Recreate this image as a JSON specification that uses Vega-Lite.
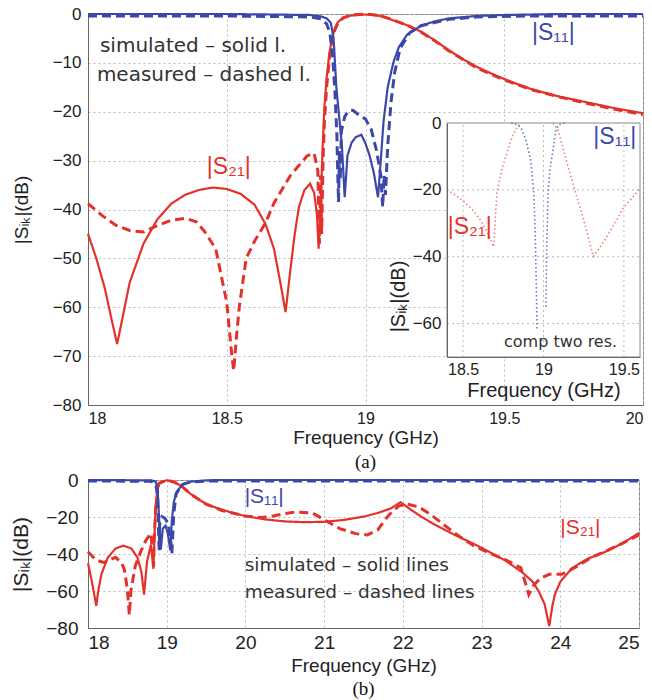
{
 "$schema": "https://vega.github.io/schema/vega-lite/v6.json",
 "padding": {"left": 10, "top": 4, "right": 5, "bottom": 5},
 "spacing": -3,
 "background": "white",
 "config": {
  "font": "Liberation Sans",
  "view": {"stroke": "#888", "strokeWidth": 1},
  "axis": {"grid": true, "gridColor": "#bbb", "gridDash": [2, 3], "ticks": false, "domainColor": "#666", "labelColor": "#222", "titleColor": "#222", "labelFont": "Liberation Sans", "titleFont": "Liberation Sans", "titleFontWeight": "normal", "labelFontSize": 16, "titleFontSize": 18},
  "title": {"font": "Liberation Serif", "fontWeight": "normal", "color": "#111", "fontSize": 19}
 },
 "datasets": {
  "a_lines": [
   {"f":18.0,"db":-45,"s":"S21","m":"sim"},{"f":18.03,"db":-50,"s":"S21","m":"sim"},{"f":18.06,"db":-56,"s":"S21","m":"sim"},{"f":18.085,"db":-62.5,"s":"S21","m":"sim"},{"f":18.105,"db":-67.5,"s":"S21","m":"sim"},{"f":18.125,"db":-62,"s":"S21","m":"sim"},{"f":18.15,"db":-55,"s":"S21","m":"sim"},{"f":18.2,"db":-47,"s":"S21","m":"sim"},{"f":18.25,"db":-42,"s":"S21","m":"sim"},{"f":18.3,"db":-38.8,"s":"S21","m":"sim"},{"f":18.35,"db":-37,"s":"S21","m":"sim"},{"f":18.4,"db":-36,"s":"S21","m":"sim"},{"f":18.45,"db":-35.5,"s":"S21","m":"sim"},{"f":18.5,"db":-35.8,"s":"S21","m":"sim"},{"f":18.55,"db":-36.8,"s":"S21","m":"sim"},{"f":18.6,"db":-39,"s":"S21","m":"sim"},{"f":18.64,"db":-43,"s":"S21","m":"sim"},{"f":18.67,"db":-48,"s":"S21","m":"sim"},{"f":18.69,"db":-54,"s":"S21","m":"sim"},{"f":18.712,"db":-61,"s":"S21","m":"sim"},{"f":18.73,"db":-52,"s":"S21","m":"sim"},{"f":18.745,"db":-45,"s":"S21","m":"sim"},{"f":18.76,"db":-39.5,"s":"S21","m":"sim"},{"f":18.78,"db":-36,"s":"S21","m":"sim"},{"f":18.8,"db":-34.7,"s":"S21","m":"sim"},{"f":18.815,"db":-36.6,"s":"S21","m":"sim"},{"f":18.825,"db":-41,"s":"S21","m":"sim"},{"f":18.831,"db":-48,"s":"S21","m":"sim"},{"f":18.838,"db":-40,"s":"S21","m":"sim"},{"f":18.845,"db":-28,"s":"S21","m":"sim"},{"f":18.852,"db":-19,"s":"S21","m":"sim"},{"f":18.86,"db":-13,"s":"S21","m":"sim"},{"f":18.87,"db":-8,"s":"S21","m":"sim"},{"f":18.88,"db":-4.8,"s":"S21","m":"sim"},{"f":18.89,"db":-2.9,"s":"S21","m":"sim"},{"f":18.9,"db":-1.7,"s":"S21","m":"sim"},{"f":18.92,"db":-0.7,"s":"S21","m":"sim"},{"f":18.95,"db":-0.3,"s":"S21","m":"sim"},{"f":19.0,"db":-0.1,"s":"S21","m":"sim"},{"f":19.03,"db":-0.2,"s":"S21","m":"sim"},{"f":19.06,"db":-0.5,"s":"S21","m":"sim"},{"f":19.1,"db":-1.3,"s":"S21","m":"sim"},{"f":19.15,"db":-2.3,"s":"S21","m":"sim"},{"f":19.2,"db":-3.6,"s":"S21","m":"sim"},{"f":19.25,"db":-5.4,"s":"S21","m":"sim"},{"f":19.3,"db":-7.4,"s":"S21","m":"sim"},{"f":19.35,"db":-9.2,"s":"S21","m":"sim"},{"f":19.4,"db":-10.8,"s":"S21","m":"sim"},{"f":19.45,"db":-12.1,"s":"S21","m":"sim"},{"f":19.5,"db":-13.3,"s":"S21","m":"sim"},{"f":19.55,"db":-14.4,"s":"S21","m":"sim"},{"f":19.6,"db":-15.4,"s":"S21","m":"sim"},{"f":19.65,"db":-16.2,"s":"S21","m":"sim"},{"f":19.7,"db":-16.9,"s":"S21","m":"sim"},{"f":19.75,"db":-17.5,"s":"S21","m":"sim"},{"f":19.8,"db":-18.1,"s":"S21","m":"sim"},{"f":19.85,"db":-18.7,"s":"S21","m":"sim"},{"f":19.9,"db":-19.3,"s":"S21","m":"sim"},{"f":19.95,"db":-19.8,"s":"S21","m":"sim"},{"f":20.0,"db":-20.3,"s":"S21","m":"sim"},
   {"f":18.0,"db":-38.8,"s":"S21","m":"meas"},{"f":18.05,"db":-41.2,"s":"S21","m":"meas"},{"f":18.1,"db":-43.2,"s":"S21","m":"meas"},{"f":18.15,"db":-44.3,"s":"S21","m":"meas"},{"f":18.2,"db":-44.6,"s":"S21","m":"meas"},{"f":18.25,"db":-43.3,"s":"S21","m":"meas"},{"f":18.3,"db":-42.2,"s":"S21","m":"meas"},{"f":18.35,"db":-41.8,"s":"S21","m":"meas"},{"f":18.39,"db":-42.5,"s":"S21","m":"meas"},{"f":18.42,"db":-44.5,"s":"S21","m":"meas"},{"f":18.46,"db":-48,"s":"S21","m":"meas"},{"f":18.5,"db":-59,"s":"S21","m":"meas"},{"f":18.515,"db":-68,"s":"S21","m":"meas"},{"f":18.525,"db":-73,"s":"S21","m":"meas"},{"f":18.535,"db":-66,"s":"S21","m":"meas"},{"f":18.545,"db":-60,"s":"S21","m":"meas"},{"f":18.57,"db":-50,"s":"S21","m":"meas"},{"f":18.6,"db":-46.5,"s":"S21","m":"meas"},{"f":18.64,"db":-42.7,"s":"S21","m":"meas"},{"f":18.67,"db":-38.7,"s":"S21","m":"meas"},{"f":18.73,"db":-33,"s":"S21","m":"meas"},{"f":18.79,"db":-29,"s":"S21","m":"meas"},{"f":18.815,"db":-28.5,"s":"S21","m":"meas"},{"f":18.828,"db":-32,"s":"S21","m":"meas"},{"f":18.834,"db":-47,"s":"S21","m":"meas"},{"f":18.838,"db":-33,"s":"S21","m":"meas"},{"f":18.842,"db":-45,"s":"S21","m":"meas"},{"f":18.847,"db":-30,"s":"S21","m":"meas"},{"f":18.852,"db":-22,"s":"S21","m":"meas"},{"f":18.86,"db":-15,"s":"S21","m":"meas"},{"f":18.87,"db":-9,"s":"S21","m":"meas"},{"f":18.88,"db":-5.3,"s":"S21","m":"meas"},{"f":18.89,"db":-3.2,"s":"S21","m":"meas"},{"f":18.9,"db":-1.9,"s":"S21","m":"meas"},{"f":18.92,"db":-0.8,"s":"S21","m":"meas"},{"f":18.95,"db":-0.2,"s":"S21","m":"meas"},{"f":19.0,"db":0,"s":"S21","m":"meas"},{"f":19.05,"db":-0.3,"s":"S21","m":"meas"},{"f":19.1,"db":-1.2,"s":"S21","m":"meas"},{"f":19.15,"db":-2.3,"s":"S21","m":"meas"},{"f":19.2,"db":-3.7,"s":"S21","m":"meas"},{"f":19.25,"db":-5.5,"s":"S21","m":"meas"},{"f":19.3,"db":-7.5,"s":"S21","m":"meas"},{"f":19.4,"db":-11,"s":"S21","m":"meas"},{"f":19.5,"db":-13.5,"s":"S21","m":"meas"},{"f":19.6,"db":-15.5,"s":"S21","m":"meas"},{"f":19.7,"db":-17,"s":"S21","m":"meas"},{"f":19.8,"db":-18.3,"s":"S21","m":"meas"},{"f":19.9,"db":-19.5,"s":"S21","m":"meas"},{"f":20.0,"db":-20.6,"s":"S21","m":"meas"},
   {"f":18.0,"db":0,"s":"S11","m":"sim"},{"f":18.5,"db":0,"s":"S11","m":"sim"},{"f":18.8,"db":-0.2,"s":"S11","m":"sim"},{"f":18.84,"db":-0.5,"s":"S11","m":"sim"},{"f":18.86,"db":-0.9,"s":"S11","m":"sim"},{"f":18.875,"db":-1.8,"s":"S11","m":"sim"},{"f":18.885,"db":-5,"s":"S11","m":"sim"},{"f":18.895,"db":-15,"s":"S11","m":"sim"},{"f":18.905,"db":-21,"s":"S11","m":"sim"},{"f":18.915,"db":-27,"s":"S11","m":"sim"},{"f":18.925,"db":-37.5,"s":"S11","m":"sim"},{"f":18.935,"db":-29,"s":"S11","m":"sim"},{"f":18.95,"db":-26.3,"s":"S11","m":"sim"},{"f":18.965,"db":-25.2,"s":"S11","m":"sim"},{"f":18.985,"db":-24.7,"s":"S11","m":"sim"},{"f":19.0,"db":-26.5,"s":"S11","m":"sim"},{"f":19.015,"db":-29,"s":"S11","m":"sim"},{"f":19.03,"db":-32.5,"s":"S11","m":"sim"},{"f":19.045,"db":-37.5,"s":"S11","m":"sim"},{"f":19.055,"db":-30,"s":"S11","m":"sim"},{"f":19.065,"db":-22,"s":"S11","m":"sim"},{"f":19.08,"db":-15,"s":"S11","m":"sim"},{"f":19.1,"db":-10,"s":"S11","m":"sim"},{"f":19.12,"db":-6.8,"s":"S11","m":"sim"},{"f":19.15,"db":-4.2,"s":"S11","m":"sim"},{"f":19.2,"db":-2.4,"s":"S11","m":"sim"},{"f":19.25,"db":-1.5,"s":"S11","m":"sim"},{"f":19.3,"db":-0.9,"s":"S11","m":"sim"},{"f":19.4,"db":-0.4,"s":"S11","m":"sim"},{"f":19.5,"db":-0.2,"s":"S11","m":"sim"},{"f":19.7,"db":0,"s":"S11","m":"sim"},{"f":20.0,"db":0,"s":"S11","m":"sim"},
   {"f":18.0,"db":-0.4,"s":"S11","m":"meas"},{"f":18.5,"db":-0.4,"s":"S11","m":"meas"},{"f":18.8,"db":-0.6,"s":"S11","m":"meas"},{"f":18.84,"db":-1,"s":"S11","m":"meas"},{"f":18.86,"db":-2,"s":"S11","m":"meas"},{"f":18.872,"db":-4,"s":"S11","m":"meas"},{"f":18.882,"db":-9,"s":"S11","m":"meas"},{"f":18.89,"db":-16,"s":"S11","m":"meas"},{"f":18.897,"db":-25,"s":"S11","m":"meas"},{"f":18.9,"db":-33,"s":"S11","m":"meas"},{"f":18.903,"db":-38.5,"s":"S11","m":"meas"},{"f":18.906,"db":-28,"s":"S11","m":"meas"},{"f":18.909,"db":-34,"s":"S11","m":"meas"},{"f":18.913,"db":-24,"s":"S11","m":"meas"},{"f":18.925,"db":-21,"s":"S11","m":"meas"},{"f":18.94,"db":-19.8,"s":"S11","m":"meas"},{"f":18.955,"db":-19.7,"s":"S11","m":"meas"},{"f":18.975,"db":-20.6,"s":"S11","m":"meas"},{"f":19.0,"db":-21.5,"s":"S11","m":"meas"},{"f":19.02,"db":-23.5,"s":"S11","m":"meas"},{"f":19.04,"db":-28,"s":"S11","m":"meas"},{"f":19.055,"db":-33,"s":"S11","m":"meas"},{"f":19.062,"db":-39.5,"s":"S11","m":"meas"},{"f":19.067,"db":-33,"s":"S11","m":"meas"},{"f":19.072,"db":-37,"s":"S11","m":"meas"},{"f":19.08,"db":-27,"s":"S11","m":"meas"},{"f":19.092,"db":-18,"s":"S11","m":"meas"},{"f":19.105,"db":-12,"s":"S11","m":"meas"},{"f":19.125,"db":-7,"s":"S11","m":"meas"},{"f":19.16,"db":-3.8,"s":"S11","m":"meas"},{"f":19.2,"db":-2.4,"s":"S11","m":"meas"},{"f":19.3,"db":-1.1,"s":"S11","m":"meas"},{"f":19.4,"db":-0.6,"s":"S11","m":"meas"},{"f":19.6,"db":-0.4,"s":"S11","m":"meas"},{"f":20.0,"db":-0.4,"s":"S11","m":"meas"}
  ],
  "a_notes": [
   {"f":18.043,"db":-6.6,"label":"simulated – solid l.","s":"note"},
   {"f":18.032,"db":-12.5,"label":"measured – dashed l.","s":"note"}
  ],
  "a_labels": [
   {"f":19.6,"db":-3.9,"label":"|S₁₁|","s":"S11"},
   {"f":18.428,"db":-31.3,"label":"|S₂₁|","s":"S21"}
  ],
  "inset_box": [{"f":18.4,"f2":19.6,"db":-70,"db2":0}],
  "inset_vgrid": [{"f":18.5,"db":-70,"db2":0},{"f":19.0,"db":-70,"db2":0},{"f":19.5,"db":-70,"db2":0}],
  "inset_hgrid": [{"f":18.4,"f2":19.6,"db":-20},{"f":18.4,"f2":19.6,"db":-40},{"f":18.4,"f2":19.6,"db":-60}],
  "inset_lines": [
   {"f":18.4,"db":-20,"s":"S21i","g":"r1"},{"f":18.45,"db":-21.5,"s":"S21i","g":"r1"},{"f":18.5,"db":-23.3,"s":"S21i","g":"r1"},{"f":18.55,"db":-25.5,"s":"S21i","g":"r1"},{"f":18.6,"db":-28.5,"s":"S21i","g":"r1"},{"f":18.65,"db":-32.5,"s":"S21i","g":"r1"},{"f":18.69,"db":-37,"s":"S21i","g":"r1"},{"f":18.71,"db":-21,"s":"S21i","g":"r1"},{"f":18.74,"db":-14,"s":"S21i","g":"r1"},{"f":18.775,"db":-8.5,"s":"S21i","g":"r1"},{"f":18.81,"db":-3.5,"s":"S21i","g":"r1"},{"f":18.84,"db":-1,"s":"S21i","g":"r1"},{"f":18.86,"db":0,"s":"S21i","g":"r1"},
   {"f":18.8,"db":0,"s":"S11i","g":"b1"},{"f":18.84,"db":-0.5,"s":"S11i","g":"b1"},{"f":18.86,"db":-1.5,"s":"S11i","g":"b1"},{"f":18.89,"db":-5,"s":"S11i","g":"b1"},{"f":18.92,"db":-11,"s":"S11i","g":"b1"},{"f":18.94,"db":-21,"s":"S11i","g":"b1"},{"f":18.95,"db":-36,"s":"S11i","g":"b1"},{"f":18.955,"db":-48,"s":"S11i","g":"b1"},{"f":18.96,"db":-61.5,"s":"S11i","g":"b1"},
   {"f":19.015,"db":-55,"s":"S11i","g":"b2"},{"f":19.02,"db":-38,"s":"S11i","g":"b2"},{"f":19.028,"db":-21,"s":"S11i","g":"b2"},{"f":19.04,"db":-14,"s":"S11i","g":"b2"},{"f":19.056,"db":-9,"s":"S11i","g":"b2"},{"f":19.075,"db":-2.5,"s":"S11i","g":"b2"},{"f":19.095,"db":-0.5,"s":"S11i","g":"b2"},{"f":19.13,"db":0,"s":"S11i","g":"b2"},
   {"f":19.06,"db":0,"s":"S21i","g":"r2"},{"f":19.09,"db":-2,"s":"S21i","g":"r2"},{"f":19.13,"db":-9,"s":"S21i","g":"r2"},{"f":19.17,"db":-16,"s":"S21i","g":"r2"},{"f":19.21,"db":-22.5,"s":"S21i","g":"r2"},{"f":19.25,"db":-29,"s":"S21i","g":"r2"},{"f":19.28,"db":-34.5,"s":"S21i","g":"r2"},{"f":19.31,"db":-40,"s":"S21i","g":"r2"},{"f":19.36,"db":-36.5,"s":"S21i","g":"r2"},{"f":19.4,"db":-33.5,"s":"S21i","g":"r2"},{"f":19.45,"db":-29.5,"s":"S21i","g":"r2"},{"f":19.5,"db":-25,"s":"S21i","g":"r2"},{"f":19.55,"db":-22.5,"s":"S21i","g":"r2"},{"f":19.6,"db":-19.5,"s":"S21i","g":"r2"}
  ],
  "inset_labels": [
   {"f":19.31,"db":-4.2,"label":"|S₁₁|","s":"S11"},
   {"f":18.405,"db":-31,"label":"|S₂₁|","s":"S21"}
  ],
  "inset_note": [{"f":19.106,"db":-65.5,"label":"comp two res.","s":"note"}],
  "b_lines": [
   {"f":18.0,"db":-45,"s":"S21","m":"sim"},{"f":18.04,"db":-53,"s":"S21","m":"sim"},{"f":18.08,"db":-62,"s":"S21","m":"sim"},{"f":18.105,"db":-68,"s":"S21","m":"sim"},{"f":18.13,"db":-60,"s":"S21","m":"sim"},{"f":18.17,"db":-51,"s":"S21","m":"sim"},{"f":18.25,"db":-42,"s":"S21","m":"sim"},{"f":18.35,"db":-37,"s":"S21","m":"sim"},{"f":18.45,"db":-35.5,"s":"S21","m":"sim"},{"f":18.55,"db":-37,"s":"S21","m":"sim"},{"f":18.63,"db":-42,"s":"S21","m":"sim"},{"f":18.68,"db":-50,"s":"S21","m":"sim"},{"f":18.712,"db":-62,"s":"S21","m":"sim"},{"f":18.75,"db":-44,"s":"S21","m":"sim"},{"f":18.8,"db":-35,"s":"S21","m":"sim"},{"f":18.83,"db":-48,"s":"S21","m":"sim"},{"f":18.86,"db":-13,"s":"S21","m":"sim"},{"f":18.9,"db":-1.7,"s":"S21","m":"sim"},{"f":19.0,"db":-0.1,"s":"S21","m":"sim"},{"f":19.1,"db":-1.3,"s":"S21","m":"sim"},{"f":19.2,"db":-3.6,"s":"S21","m":"sim"},{"f":19.3,"db":-7.4,"s":"S21","m":"sim"},{"f":19.4,"db":-10.5,"s":"S21","m":"sim"},{"f":19.5,"db":-12.8,"s":"S21","m":"sim"},{"f":19.6,"db":-14.6,"s":"S21","m":"sim"},{"f":19.8,"db":-17.3,"s":"S21","m":"sim"},{"f":20.0,"db":-19.5,"s":"S21","m":"sim"},{"f":20.25,"db":-21.3,"s":"S21","m":"sim"},{"f":20.5,"db":-22.4,"s":"S21","m":"sim"},{"f":20.75,"db":-22.8,"s":"S21","m":"sim"},{"f":21.0,"db":-22.6,"s":"S21","m":"sim"},{"f":21.25,"db":-21.6,"s":"S21","m":"sim"},{"f":21.5,"db":-19.8,"s":"S21","m":"sim"},{"f":21.7,"db":-17.6,"s":"S21","m":"sim"},{"f":21.85,"db":-15.3,"s":"S21","m":"sim"},{"f":21.97,"db":-12,"s":"S21","m":"sim"},{"f":22.1,"db":-16,"s":"S21","m":"sim"},{"f":22.24,"db":-20,"s":"S21","m":"sim"},{"f":22.4,"db":-24,"s":"S21","m":"sim"},{"f":22.66,"db":-29.7,"s":"S21","m":"sim"},{"f":22.9,"db":-34.5,"s":"S21","m":"sim"},{"f":23.1,"db":-38.9,"s":"S21","m":"sim"},{"f":23.3,"db":-43.5,"s":"S21","m":"sim"},{"f":23.51,"db":-49.7,"s":"S21","m":"sim"},{"f":23.65,"db":-55,"s":"S21","m":"sim"},{"f":23.73,"db":-60.5,"s":"S21","m":"sim"},{"f":23.8,"db":-67,"s":"S21","m":"sim"},{"f":23.86,"db":-79,"s":"S21","m":"sim"},{"f":23.9,"db":-68,"s":"S21","m":"sim"},{"f":23.93,"db":-62,"s":"S21","m":"sim"},{"f":24.0,"db":-55,"s":"S21","m":"sim"},{"f":24.15,"db":-47.6,"s":"S21","m":"sim"},{"f":24.35,"db":-42.5,"s":"S21","m":"sim"},{"f":24.57,"db":-38.9,"s":"S21","m":"sim"},{"f":24.8,"db":-34,"s":"S21","m":"sim"},{"f":25.0,"db":-28.6,"s":"S21","m":"sim"},
   {"f":18.0,"db":-38.8,"s":"S21","m":"meas"},{"f":18.1,"db":-43.2,"s":"S21","m":"meas"},{"f":18.2,"db":-44.6,"s":"S21","m":"meas"},{"f":18.35,"db":-41.8,"s":"S21","m":"meas"},{"f":18.42,"db":-44.5,"s":"S21","m":"meas"},{"f":18.46,"db":-48,"s":"S21","m":"meas"},{"f":18.5,"db":-59,"s":"S21","m":"meas"},{"f":18.525,"db":-73,"s":"S21","m":"meas"},{"f":18.545,"db":-60,"s":"S21","m":"meas"},{"f":18.6,"db":-46.5,"s":"S21","m":"meas"},{"f":18.67,"db":-38.7,"s":"S21","m":"meas"},{"f":18.73,"db":-33,"s":"S21","m":"meas"},{"f":18.8,"db":-28.8,"s":"S21","m":"meas"},{"f":18.834,"db":-47,"s":"S21","m":"meas"},{"f":18.84,"db":-33,"s":"S21","m":"meas"},{"f":18.86,"db":-15,"s":"S21","m":"meas"},{"f":18.9,"db":-1.9,"s":"S21","m":"meas"},{"f":19.0,"db":0,"s":"S21","m":"meas"},{"f":19.1,"db":-1.2,"s":"S21","m":"meas"},{"f":19.2,"db":-3.7,"s":"S21","m":"meas"},{"f":19.3,"db":-7.5,"s":"S21","m":"meas"},{"f":19.5,"db":-13,"s":"S21","m":"meas"},{"f":19.7,"db":-16.5,"s":"S21","m":"meas"},{"f":20.0,"db":-19.5,"s":"S21","m":"meas"},{"f":20.2,"db":-20.3,"s":"S21","m":"meas"},{"f":20.35,"db":-19.5,"s":"S21","m":"meas"},{"f":20.5,"db":-18.2,"s":"S21","m":"meas"},{"f":20.65,"db":-17.3,"s":"S21","m":"meas"},{"f":20.85,"db":-17.8,"s":"S21","m":"meas"},{"f":21.0,"db":-21.5,"s":"S21","m":"meas"},{"f":21.2,"db":-26.3,"s":"S21","m":"meas"},{"f":21.4,"db":-29,"s":"S21","m":"meas"},{"f":21.55,"db":-29.7,"s":"S21","m":"meas"},{"f":21.68,"db":-27,"s":"S21","m":"meas"},{"f":21.82,"db":-19,"s":"S21","m":"meas"},{"f":21.95,"db":-14,"s":"S21","m":"meas"},{"f":22.05,"db":-13,"s":"S21","m":"meas"},{"f":22.2,"db":-14.5,"s":"S21","m":"meas"},{"f":22.35,"db":-18.5,"s":"S21","m":"meas"},{"f":22.5,"db":-23.5,"s":"S21","m":"meas"},{"f":22.7,"db":-30,"s":"S21","m":"meas"},{"f":22.9,"db":-35.5,"s":"S21","m":"meas"},{"f":23.1,"db":-39.5,"s":"S21","m":"meas"},{"f":23.3,"db":-43,"s":"S21","m":"meas"},{"f":23.5,"db":-47.5,"s":"S21","m":"meas"},{"f":23.6,"db":-62,"s":"S21","m":"meas"},{"f":23.66,"db":-57,"s":"S21","m":"meas"},{"f":23.75,"db":-53,"s":"S21","m":"meas"},{"f":23.86,"db":-51,"s":"S21","m":"meas"},{"f":24.02,"db":-51,"s":"S21","m":"meas"},{"f":24.2,"db":-47,"s":"S21","m":"meas"},{"f":24.4,"db":-41.8,"s":"S21","m":"meas"},{"f":24.6,"db":-38,"s":"S21","m":"meas"},{"f":24.8,"db":-34,"s":"S21","m":"meas"},{"f":25.0,"db":-29.7,"s":"S21","m":"meas"},
   {"f":18.0,"db":0,"s":"S11","m":"sim"},{"f":18.8,"db":-0.2,"s":"S11","m":"sim"},{"f":18.86,"db":-0.9,"s":"S11","m":"sim"},{"f":18.885,"db":-5,"s":"S11","m":"sim"},{"f":18.9,"db":-18,"s":"S11","m":"sim"},{"f":18.925,"db":-37.5,"s":"S11","m":"sim"},{"f":18.95,"db":-26.3,"s":"S11","m":"sim"},{"f":18.985,"db":-24.7,"s":"S11","m":"sim"},{"f":19.015,"db":-29,"s":"S11","m":"sim"},{"f":19.045,"db":-38,"s":"S11","m":"sim"},{"f":19.065,"db":-22,"s":"S11","m":"sim"},{"f":19.09,"db":-12,"s":"S11","m":"sim"},{"f":19.12,"db":-6.8,"s":"S11","m":"sim"},{"f":19.2,"db":-2.4,"s":"S11","m":"sim"},{"f":19.3,"db":-0.9,"s":"S11","m":"sim"},{"f":19.5,"db":-0.2,"s":"S11","m":"sim"},{"f":19.7,"db":0,"s":"S11","m":"sim"},{"f":25.0,"db":0,"s":"S11","m":"sim"},
   {"f":18.0,"db":-0.5,"s":"S11","m":"meas"},{"f":18.8,"db":-0.7,"s":"S11","m":"meas"},{"f":18.86,"db":-2,"s":"S11","m":"meas"},{"f":18.885,"db":-9,"s":"S11","m":"meas"},{"f":18.9,"db":-33,"s":"S11","m":"meas"},{"f":18.905,"db":-38,"s":"S11","m":"meas"},{"f":18.91,"db":-24,"s":"S11","m":"meas"},{"f":18.94,"db":-19.8,"s":"S11","m":"meas"},{"f":18.975,"db":-20.6,"s":"S11","m":"meas"},{"f":19.02,"db":-23.5,"s":"S11","m":"meas"},{"f":19.05,"db":-32,"s":"S11","m":"meas"},{"f":19.065,"db":-40,"s":"S11","m":"meas"},{"f":19.075,"db":-31,"s":"S11","m":"meas"},{"f":19.09,"db":-18,"s":"S11","m":"meas"},{"f":19.12,"db":-7.5,"s":"S11","m":"meas"},{"f":19.2,"db":-2.4,"s":"S11","m":"meas"},{"f":19.3,"db":-1.1,"s":"S11","m":"meas"},{"f":19.5,"db":-0.6,"s":"S11","m":"meas"},{"f":25.0,"db":-0.5,"s":"S11","m":"meas"}
  ],
  "b_notes": [
   {"f":19.99,"db":-45.9,"label":"simulated – solid lines","s":"note"},
   {"f":19.99,"db":-60.5,"label":"measured – dashed lines","s":"note"}
  ],
  "b_labels": [
   {"f":19.99,"db":-9.2,"label":"|S₁₁|","s":"S11"},
   {"f":24.0,"db":-26,"label":"|S₂₁|","s":"S21"}
  ]
 },
 "vconcat": [
  {
   "width": 555,
   "height": 391,
   "title": {"text": "(a)", "orient": "bottom", "offset": 6},
   "layer": [
    {
     "encoding": {
      "x": {"field": "f", "type": "quantitative", "scale": {"domain": [18, 20], "nice": false, "zero": false}, "axis": {"values": [18, 18.5, 19, 19.5, 20], "format": "~g", "title": "Frequency (GHz)", "labelPadding": 5, "titlePadding": 2, "labelFontSize": 16, "titleFontSize": 19}},
      "y": {"field": "db", "type": "quantitative", "scale": {"domain": [-80, 0], "nice": false}, "axis": {"values": [0, -10, -20, -30, -40, -50, -60, -70, -80], "title": "|Sᵢₖ|(dB)", "labelPadding": 7, "titlePadding": 21, "labelFontSize": 17, "titleFontSize": 19}}
     },
     "layer": [
      {"data": {"name": "a_lines"}, "mark": {"type": "line", "strokeCap": "butt"},
       "encoding": {
        "color": {"field": "s", "type": "nominal", "scale": {"domain": ["S11", "S21", "note", "S11i", "S21i"], "range": ["#3b48a8", "#e3322b", "#333333", "#6d74bf", "#e8837a"]}, "legend": null},
        "strokeDash": {"field": "m", "type": "nominal", "scale": {"domain": ["sim", "meas"], "range": [[1, 0], [9, 5]]}, "legend": null},
        "strokeWidth": {"field": "m", "type": "nominal", "scale": {"domain": ["sim", "meas"], "range": [2.2, 3]}, "legend": null}
       }},
      {"data": {"name": "a_notes"}, "mark": {"type": "text", "align": "left", "baseline": "middle", "fontSize": 20, "font": "DejaVu Sans"},
       "encoding": {
        "text": {"field": "label"},
        "color": {"field": "s", "type": "nominal", "scale": {"domain": ["S11", "S21", "note", "S11i", "S21i"], "range": ["#3b48a8", "#e3322b", "#333333", "#6d74bf", "#e8837a"]}, "legend": null}
       }},
      {"data": {"name": "a_labels"}, "mark": {"type": "text", "align": "left", "baseline": "middle", "fontSize": 23},
       "encoding": {
        "text": {"field": "label"},
        "color": {"field": "s", "type": "nominal", "scale": {"domain": ["S11", "S21", "note", "S11i", "S21i"], "range": ["#3b48a8", "#e3322b", "#333333", "#6d74bf", "#e8837a"]}, "legend": null}
       }}
     ]
    },
    {
     "encoding": {
      "x": {"field": "f", "type": "quantitative", "scale": {"domain": [18.4, 19.6], "range": [359, 552], "nice": false, "zero": false}, "axis": {"orient": "bottom", "offset": -48, "values": [18.5, 19, 19.5], "format": "~g", "grid": false, "title": "Frequency (GHz)", "labelPadding": 4, "titlePadding": 3, "labelFontSize": 16, "titleFontSize": 20, "zindex": 1}},
      "y": {"field": "db", "type": "quantitative", "scale": {"domain": [-70, 0], "range": [343, 109], "nice": false}, "axis": {"orient": "left", "offset": -359, "values": [0, -20, -40, -60], "grid": false, "title": "|Sᵢₖ|(dB)", "titleY": 282, "labelPadding": 6, "titlePadding": 4, "labelFontSize": 17, "titleFontSize": 20, "zindex": 1}}
     },
     "layer": [
      {"data": {"name": "inset_box"}, "mark": {"type": "rect", "fill": "white", "stroke": "#888", "strokeWidth": 1}, "encoding": {"x2": {"field": "f2"}, "y2": {"field": "db2"}}},
      {"data": {"name": "inset_vgrid"}, "mark": {"type": "rule", "color": "#bbb", "strokeDash": [2, 3]}, "encoding": {"y2": {"field": "db2"}}},
      {"data": {"name": "inset_hgrid"}, "mark": {"type": "rule", "color": "#bbb", "strokeDash": [2, 3]}, "encoding": {"x2": {"field": "f2"}}},
      {"data": {"name": "inset_lines"}, "mark": {"type": "line", "strokeWidth": 1.6, "strokeDash": [1.5, 2.5]},
       "encoding": {
        "color": {"field": "s", "type": "nominal", "scale": {"domain": ["S11", "S21", "note", "S11i", "S21i"], "range": ["#3b48a8", "#e3322b", "#333333", "#6d74bf", "#e8837a"]}, "legend": null},
        "detail": {"field": "g"}
       }},
      {"data": {"name": "inset_labels"}, "mark": {"type": "text", "align": "left", "baseline": "middle", "fontSize": 23},
       "encoding": {
        "text": {"field": "label"},
        "color": {"field": "s", "type": "nominal", "scale": {"domain": ["S11", "S21", "note", "S11i", "S21i"], "range": ["#3b48a8", "#e3322b", "#333333", "#6d74bf", "#e8837a"]}, "legend": null}
       }},
      {"data": {"name": "inset_note"}, "mark": {"type": "text", "align": "center", "baseline": "middle", "fontSize": 16, "font": "DejaVu Sans"},
       "encoding": {
        "text": {"field": "label"},
        "color": {"field": "s", "type": "nominal", "scale": {"domain": ["S11", "S21", "note", "S11i", "S21i"], "range": ["#3b48a8", "#e3322b", "#333333", "#6d74bf", "#e8837a"]}, "legend": null}
       }}
     ]
    }
   ],
   "resolve": {"scale": {"x": "independent", "y": "independent"}, "axis": {"x": "independent", "y": "independent"}}
  },
  {
   "width": 551,
   "height": 148,
   "title": {"text": "(b)", "orient": "bottom", "offset": 5},
   "encoding": {
    "x": {"field": "f", "type": "quantitative", "scale": {"domain": [18, 25], "nice": false, "zero": false}, "axis": {"values": [18, 19, 20, 21, 22, 23, 24, 25], "title": "Frequency (GHz)", "labelPadding": 5, "titlePadding": 4, "labelFontSize": 19, "titleFontSize": 19}},
    "y": {"field": "db", "type": "quantitative", "scale": {"domain": [-80, 0], "nice": false}, "axis": {"values": [0, -20, -40, -60, -80], "title": "|Sᵢₖ|(dB)", "labelPadding": 10, "titlePadding": 14, "labelFontSize": 19, "titleFontSize": 21}}
   },
   "layer": [
    {"data": {"name": "b_lines"}, "mark": {"type": "line", "strokeCap": "butt"},
     "encoding": {
      "color": {"field": "s", "type": "nominal", "scale": {"domain": ["S11", "S21", "note", "S11i", "S21i"], "range": ["#3b48a8", "#e3322b", "#333333", "#6d74bf", "#e8837a"]}, "legend": null},
      "strokeDash": {"field": "m", "type": "nominal", "scale": {"domain": ["sim", "meas"], "range": [[1, 0], [9, 5]]}, "legend": null},
      "strokeWidth": {"field": "m", "type": "nominal", "scale": {"domain": ["sim", "meas"], "range": [2.2, 3]}, "legend": null}
     }},
    {"data": {"name": "b_notes"}, "mark": {"type": "text", "align": "left", "baseline": "middle", "fontSize": 18.5, "font": "DejaVu Sans"},
     "encoding": {
      "text": {"field": "label"},
      "color": {"field": "s", "type": "nominal", "scale": {"domain": ["S11", "S21", "note", "S11i", "S21i"], "range": ["#3b48a8", "#e3322b", "#333333", "#6d74bf", "#e8837a"]}, "legend": null}
     }},
    {"data": {"name": "b_labels"}, "mark": {"type": "text", "align": "left", "baseline": "middle", "fontSize": 21},
     "encoding": {
      "text": {"field": "label"},
      "color": {"field": "s", "type": "nominal", "scale": {"domain": ["S11", "S21", "note", "S11i", "S21i"], "range": ["#3b48a8", "#e3322b", "#333333", "#6d74bf", "#e8837a"]}, "legend": null}
     }}
   ]
  }
 ]
}
